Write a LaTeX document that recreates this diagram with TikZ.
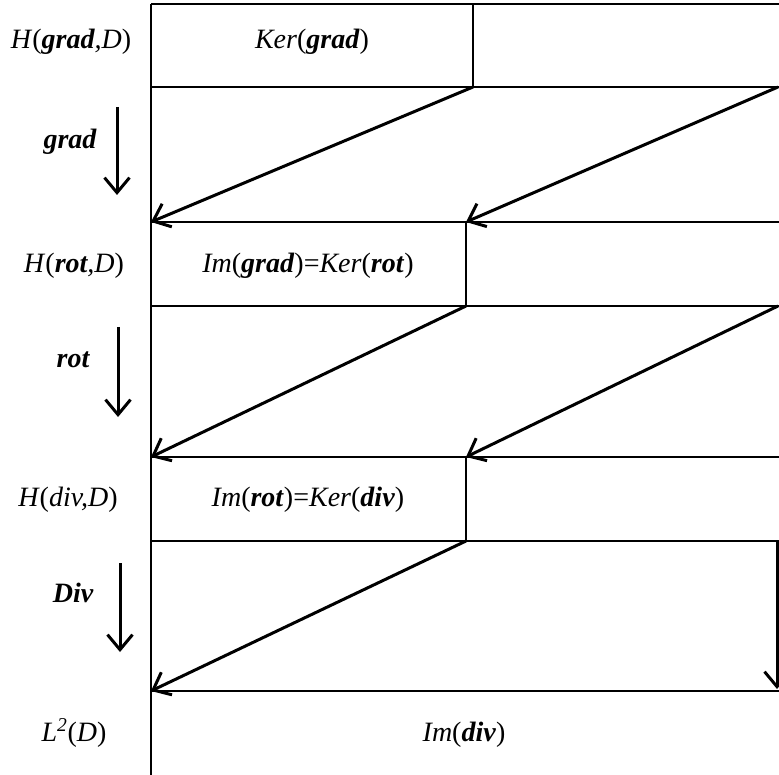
\documentclass[tikz,border=0pt]{standalone}
\usepackage{fontspec}
\setmainfont{Liberation Serif}
\usetikzlibrary{arrows.meta}
\newcommand{\myL}{\textup{(}}
\newcommand{\myR}{\textup{)}}
\begin{document}
\begin{tikzpicture}[x=1pt,y=-1pt,
  boxline/.style={line width=2.2pt},
  conn/.style={line width=3pt,-{Straight Barb[length=15pt,width=25pt,line width=3pt]}},
  lbl/.style={font=\fontsize{28}{32}\selectfont\itshape, inner sep=0pt, anchor=base}]
\useasboundingbox (0,0) rectangle (779,775);
% frame coordinates
\coordinate (L0) at (151,4);
\coordinate (Lend) at (151,775);
\coordinate (R0) at (779,4);
\coordinate (a1) at (151,87);  \coordinate (b1) at (779,87);
\coordinate (a2) at (151,222); \coordinate (b2) at (779,222);
\coordinate (a3) at (151,306); \coordinate (b3) at (779,306);
\coordinate (a4) at (151,457); \coordinate (b4) at (779,457);
\coordinate (a5) at (151,541); \coordinate (b5) at (779,541);
\coordinate (a6) at (151,691); \coordinate (b6) at (779,691);
\coordinate (d1t) at (473,4);   \coordinate (d1b) at (473,87);
\coordinate (d2t) at (466,222); \coordinate (d2b) at (466,306);
\coordinate (d3t) at (466,457); \coordinate (d3b) at (466,541);
\coordinate (rs1) at (778,87);
\coordinate (rs2) at (778,306);
\coordinate (rs3) at (777,541); \coordinate (re3) at (777,689);
% left arrow coordinates
\coordinate (g0) at (117,107); \coordinate (g1) at (117,195);
\coordinate (r0) at (118,327); \coordinate (r1) at (118,417);
\coordinate (v0) at (120,563); \coordinate (v1) at (120,652);
% frame lines
\draw[boxline] (L0) -- (Lend);
\draw[boxline] (L0) -- (R0);
\draw[boxline] (a1) -- (b1);
\draw[boxline] (a2) -- (b2);
\draw[boxline] (a3) -- (b3);
\draw[boxline] (a4) -- (b4);
\draw[boxline] (a5) -- (b5);
\draw[boxline] (a6) -- (b6);
\draw[boxline] (d1t) -- (d1b);
\draw[boxline] (d2t) -- (d2b);
\draw[boxline] (d3t) -- (d3b);
% diagonal arrows
\draw[conn] (d1b) -- (a2);
\draw[conn] (rs1) -- (d2t);
\draw[conn] (d2b) -- (a4);
\draw[conn] (rs2) -- (d3t);
\draw[conn] (d3b) -- (a6);
\draw[conn] (rs3) -- (re3);
% left arrows
\draw[conn] (g0) -- (g1);
\draw[conn] (r0) -- (r1);
\draw[conn] (v0) -- (v1);
% labels
\node[lbl] (hg) at (71,49) {H\myL\textbf{grad},D\myR};
\node[lbl] (kg) at (312,49) {Ker\myL\textbf{grad}\myR};
\node[lbl] (gl) at (70,149) {\textbf{grad}};
\node[lbl] (hr) at (74,273) {H\myL\textbf{rot},D\myR};
\node[lbl] (ig) at (308,273) {Im\myL\textbf{grad}\myR\textup{=}Ker\myL\textbf{rot}\myR};
\node[lbl] (rl) at (73,368) {\textbf{rot}};
\node[lbl] (hd) at (68,506) {H\myL div,D\myR};
\node[lbl] (ir) at (308,506) {Im\myL\textbf{rot}\myR\textup{=}Ker\myL\textbf{div}\myR};
\node[lbl] (dl) at (73,602) {\textbf{Div}};
\node[lbl] (l2) at (74,741) {L\textsuperscript{2}\myL D\myR};
\node[lbl] (id) at (464,741) {Im\myL\textbf{div}\myR};
\end{tikzpicture}
\end{document}
